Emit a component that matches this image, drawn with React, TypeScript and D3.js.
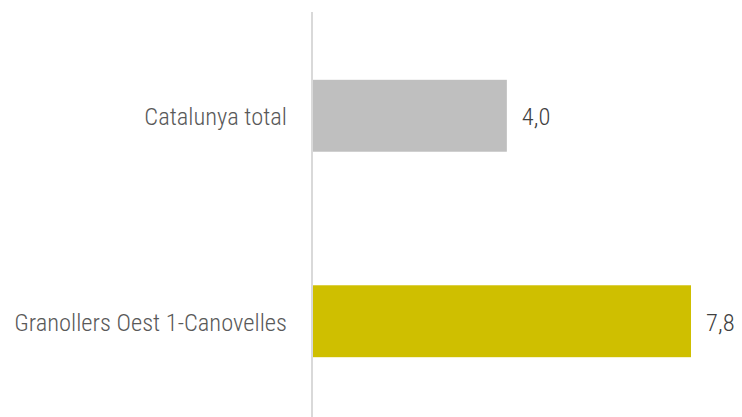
import React from "react";
import * as d3 from "d3";

const categories = ["Catalunya total", "Granollers Oest 1-Canovelles"];
const values = [4.0, 7.8];
const valueLabels = ["4,0", "7,8"];
const colors = ["#bfbfbf", "#cfbf00"];

export default function App() {
  const W = 742, H = 417;
  const x0 = 313;
  const x = d3.scaleLinear().domain([0, 7.8]).range([x0, 691]);
  const y = d3.scaleBand().domain(categories).range([12, 425]).paddingInner(0.65).paddingOuter(0.33);
  const font = "Roboto, 'Liberation Sans', sans-serif";
  return (
    <svg width={W} height={H} style={{ position: "absolute", left: 0, top: 0 }} fontFamily={font}>
      <rect width={W} height={H} fill="#ffffff" />
      {categories.map((c, i) => {
        const yy = y(c)!;
        const bh = y.bandwidth();
        return (
          <g key={c}>
            <rect x={x(0)} y={yy} width={x(values[i]) - x(0)} height={bh} fill={colors[i]} />
            <text x={287} y={yy + bh / 2 + 1} dy="0.35em" textAnchor="end" fontSize={24.5} fontWeight={350} fill="#595959" style={{ fontStretch: "condensed" }}>{c}</text>
            <text x={x(values[i]) + 15} y={yy + bh / 2 + 1} dy="0.35em" textAnchor="start" fontSize={24.5} fontWeight={350} fill="#404040" style={{ fontStretch: "condensed" }}>{valueLabels[i]}</text>
          </g>
        );
      })}
      <line x1={312} x2={312} y1={12} y2={H} stroke="#d9d9d9" strokeWidth={2} />
    </svg>
  );
}
